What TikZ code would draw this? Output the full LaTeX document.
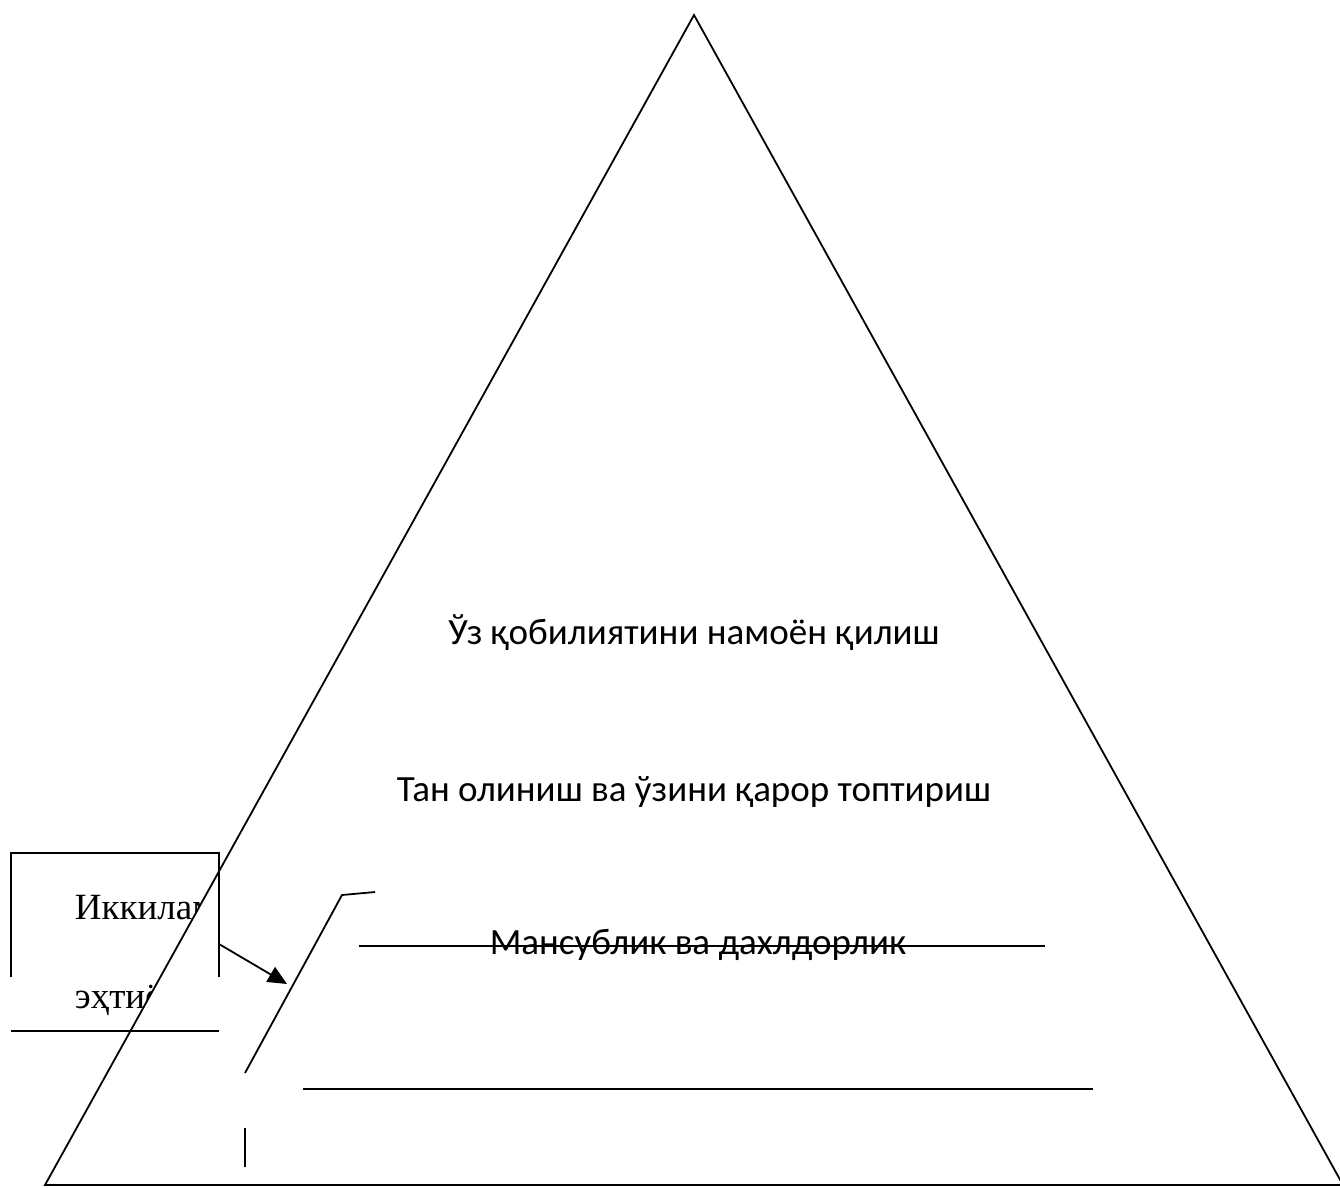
\documentclass[tikz,border=0pt]{standalone}
\usepackage{fontspec}
\setmainfont{Liberation Serif}
\newfontfamily\calibri{Carlito}
\usetikzlibrary{positioning,arrows.meta}

\begin{document}
\begin{tikzpicture}[
    x=1pt, y=-1pt,
    line width=1.8pt,
    level/.style={font=\calibri\fontsize{37}{44}\selectfont, anchor=base, inner sep=0pt},
    side/.style={font=\fontsize{37}{44}\selectfont, anchor=base west, inner sep=0pt},
  ]
  \useasboundingbox (0,0) rectangle (1340,1187);
  \clip (0,0) rectangle (1340,1187);

  % text box on the left, half covered by the pyramid
  \node[side] (need1) at (74,919) {Иккиламчи};
  \node[side] (need2) at (74,1008) {эҳтиёжлар};

  % pyramid
  \coordinate (top) at (694,15);
  \coordinate (bl) at (45,1185);
  \coordinate (br) at (1343,1185);
  \filldraw[fill=white] (top) -- (bl) -- (br) -- cycle;

  \node[level] (selfact) at (694,644) {Ўз қобилиятини намоён қилиш};
  \node[level] (esteem) at (694,801) {Тан олиниш ва ўзини қарор топтириш};
  \node[level] (belong) at (698,954) {Мансублик ва дахлдорлик};

  % frame of the text box
  \coordinate (boxnw) at (11,853);
  \coordinate (boxne) at (219,853);
  \coordinate (boxe) at (219,944);
  \draw (11,977) -- (boxnw) -- (boxne) -- (219,977);
  \draw (11,1031) -- (219,1031);

  % level lines
  \coordinate (bend) at (342,895);
  \coordinate (mark) at (287,984);
  \draw (245,1073) -- (bend) -- (375,892);
  \draw (245,1128) -- (245,1167);
  \draw (359,946) -- (1045,946);
  \draw (303,1089) -- (1093,1089);

  \draw[-{Triangle[length=19pt,width=17pt]}] (boxe) -- (mark);
\end{tikzpicture}
\end{document}
